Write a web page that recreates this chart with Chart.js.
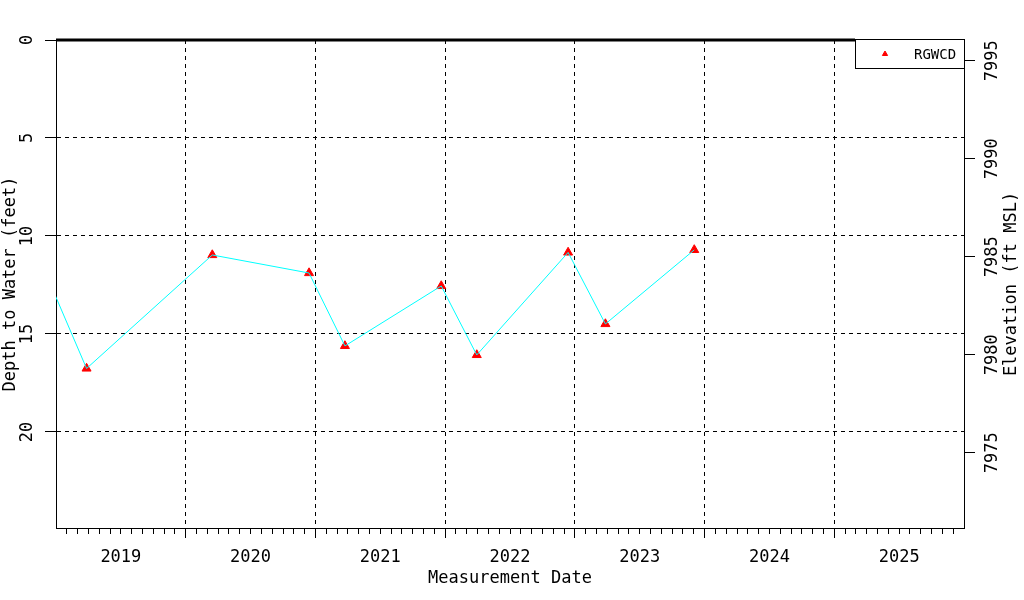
<!DOCTYPE html>
<html>
<head>
<meta charset="utf-8">
<title>Depth to Water</title>
<script src="https://cdn.jsdelivr.net/npm/chart.js@4.4.1/dist/chart.umd.min.js"></script>
<style>
  body { margin: 0; background: #fff; }
  #wrap { width: 1024px; height: 600px; }
</style>
</head>
<body>
<div id="wrap"><canvas id="depth-chart" width="1024" height="600"></canvas></div>
<script>
// RGWCD well readings: date and depth to water below ground (feet)
const measureDates = ['2018-12-03', '2019-03-28', '2020-03-16', '2020-12-14', '2021-03-25',
    '2021-12-21', '2022-03-31', '2022-12-13', '2023-03-28', '2023-12-03'];
const depthFeet = [11.9, 16.76, 10.97, 11.89, 15.61, 12.55, 16.07, 10.84, 14.49, 10.71];

const depthTicks = [0, 5, 10, 15, 20];
const elevationTicks = [7975, 7980, 7985, 7990, 7995];
const yearLabels = ['2019', '2020', '2021', '2022', '2023', '2024', '2025'];

const groundElevation = 7996.06; // ft MSL at depth 0
const depthMax = 24.9;
const firstYear = 2019;
const lastYear = 2026;

function decimalYear(s) {
    const [y, m, d] = s.split('-').map(Number);
    const start = Date.UTC(y, 0, 1);
    return y + (Date.UTC(y, m - 1, d) - start) / (Date.UTC(y + 1, 0, 1) - start);
}

const points = measureDates.map((d, i) => ({ x: decimalYear(d), y: depthFeet[i] }));

// month index from the start of the axis
function monthOf(v) { return Math.round((v - firstYear) * 12); }
const monthTicks = [];
for (let m = 1; m < (lastYear - firstYear) * 12; m++) monthTicks.push(firstYear + m / 12);

const FONT = "'DejaVu Sans Mono'";
Chart.defaults.font.family = FONT;
Chart.defaults.font.size = 17;
Chart.defaults.color = '#000';

// boxed legend in the top right corner of the plot
const legendBox = {
    id: 'legendBox',
    afterDatasetsDraw(chart) {
        const { ctx, chartArea } = chart;
        const w = 109, h = 29;
        const x = chartArea.right - w, y = chartArea.top;
        ctx.save();
        ctx.fillStyle = '#fff';
        ctx.fillRect(x, y - 2, w, h + 2);
        ctx.strokeStyle = '#000';
        ctx.lineWidth = 1;
        ctx.strokeRect(x + 0.5, y - 0.5, w, h);
        ctx.fillStyle = '#f00';
        ctx.strokeStyle = '#f00';
        ctx.beginPath();
        ctx.moveTo(x + 30, y + 11);
        ctx.lineTo(x + 32.6, y + 15.5);
        ctx.lineTo(x + 27.4, y + 15.5);
        ctx.closePath();
        ctx.fill();
        ctx.stroke();
        ctx.fillStyle = '#000';
        ctx.font = '14px ' + FONT;
        ctx.textAlign = 'left';
        ctx.textBaseline = 'middle';
        ctx.fillText(chart.data.datasets[1].label, x + 59, y + 15);
        ctx.restore();
    }
};

// right axis title reads bottom to top like the left one
const rightTitle = {
    id: 'rightTitle',
    afterDraw(chart) {
        const { ctx, chartArea } = chart;
        ctx.save();
        ctx.translate(1012, (chartArea.top + chartArea.bottom) / 2);
        ctx.rotate(-Math.PI / 2);
        ctx.font = '17px ' + FONT;
        ctx.fillStyle = '#000';
        ctx.textAlign = 'center';
        ctx.textBaseline = 'middle';
        ctx.fillText('Elevation (ft MSL)', 0, 0);
        ctx.restore();
    }
};

const ctx1 = document.getElementById('depth-chart').getContext('2d');
const depthChart = new Chart(ctx1, {
    type: 'scatter',
    data: {
        datasets: [
            {
                label: 'RGWCD',
                data: points,
                showLine: true,
                borderColor: '#00ffff',
                borderWidth: 1,
                pointRadius: 0,
                yAxisID: 'y'
            },
            {
                label: 'RGWCD',
                data: points,
                showLine: false,
                pointStyle: 'triangle',
                pointRadius: 5.2,
                backgroundColor: '#ff0000',
                borderColor: '#ff0000',
                borderWidth: 1,
                yAxisID: 'y'
            },
            {
                label: 'ground',
                data: [{ x: firstYear, y: 0 }, { x: lastYear, y: 0 }],
                showLine: true,
                clip: 4,
                borderColor: '#000',
                borderWidth: 3,
                pointRadius: 0,
                yAxisID: 'y'
            }
        ]
    },
    options: {
        responsive: false,
        animation: false,
        devicePixelRatio: 1,
        layout: { padding: { top: 40 } },
        plugins: { legend: { display: false }, tooltip: { enabled: false } },
        scales: {
            x: {
                type: 'linear',
                position: 'bottom',
                min: firstYear,
                max: lastYear,
                afterBuildTicks: (s) => { s.ticks = monthTicks.map(v => ({ value: v })); },
                afterFit: (s) => { s.height = 72; },
                ticks: {
                    autoSkip: false,
                    maxRotation: 0,
                    padding: 9,
                    callback: (v) => monthOf(v) % 12 === 6 ? yearLabels[Math.floor(v) - firstYear] : ''
                },
                grid: {
                    color: (c) => (c.tick && monthOf(c.tick.value) % 12 === 0) ? '#000' : 'rgba(0,0,0,0)',
                    tickColor: '#000',
                    tickLength: 10,
                    tickBorderDash: (c) => (c.tick && monthOf(c.tick.value) % 12 === 0) ? [] : [5, 40]
                },
                border: { display: true, color: '#000', dash: [4, 4] },
                title: { display: true, text: 'Measurement Date', padding: { top: 0, bottom: 11 } }
            },
            y: {
                type: 'linear',
                position: 'left',
                reverse: true,
                min: 0,
                max: depthMax,
                afterBuildTicks: (s) => { s.ticks = depthTicks.map(v => ({ value: v })); },
                afterFit: (s) => { s.width = 56; },
                ticks: { minRotation: 90, maxRotation: 90, crossAlign: 'center', padding: 7, callback: (v) => String(v) },
                grid: {
                    color: (c) => (c.tick && c.tick.value !== 0) ? '#000' : 'rgba(0,0,0,0)',
                    tickColor: '#000',
                    tickLength: 11
                },
                border: { display: true, color: '#000', dash: [4, 4] },
                title: { display: true, text: 'Depth to Water (feet)', padding: { top: 0, bottom: 0 } }
            },
            y2: {
                type: 'linear',
                position: 'right',
                min: groundElevation - depthMax,
                max: groundElevation,
                afterBuildTicks: (s) => { s.ticks = elevationTicks.map(v => ({ value: v })); },
                afterFit: (s) => { s.width = 60; },
                ticks: { minRotation: 90, maxRotation: 90, crossAlign: 'center', padding: -3, callback: (v) => String(v) },
                grid: { drawOnChartArea: false, tickColor: '#000', tickLength: 11 },
                border: { display: true, color: '#000' }
            }
        }
    },
    plugins: [legendBox, rightTitle]
});
</script>
</body>
</html>
